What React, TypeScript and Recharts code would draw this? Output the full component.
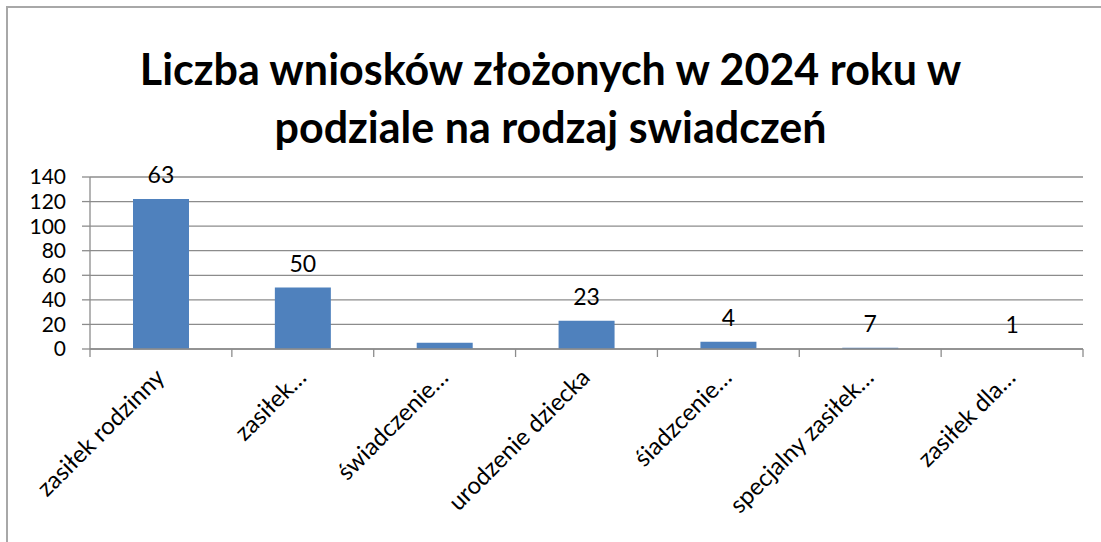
import { ComposedChart, Bar, Line, XAxis, YAxis, CartesianGrid, LabelList } from 'recharts'

const categories = [
  'zasiłek rodzinny',
  'zasiłek…',
  'świadczenie…',
  'urodzenie dziecka',
  'śiadzcenie…',
  'specjalny zasiłek…',
  'zasiłek dla…',
]
const barValues = [122, 50, 5, 23, 6, 1, 0]
const barLabels = ['63', '50', '', '23', '4', '7', '1']
const yTicks = [0, 20, 40, 60, 80, 100, 120, 140]

const titleLines = ['Liczba wniosków złożonych w 2024 roku w', 'podziale na rodzaj swiadczeń']

const FONT = 'Lato, "Open Sans", sans-serif'
const GRID = '#8c8c8c'
const BAR = '#4F81BD'

const data = categories.map((name, i) => ({ name, value: barValues[i], label: barLabels[i] }))

const CategoryTick = ({ x, y, payload, index, visibleTicksCount }: any) => {
  const half = payload && payload.offset ? payload.offset : 993 / 14
  const ax = x + 5
  const ay = y + 30
  const isLast = index === (visibleTicksCount ?? categories.length) - 1
  return (
    <g>
      <line x1={x - half} y1={y} x2={x - half} y2={y + 8} stroke={GRID} strokeWidth={1.3} />
      {isLast && <line x1={x + half} y1={y} x2={x + half} y2={y + 8} stroke={GRID} strokeWidth={1.3} />}
      <text
        x={ax}
        y={ay}
        textAnchor="end"
        transform={`rotate(-45, ${ax}, ${ay})`}
        fontSize={24}
        fontFamily={FONT}
        fill="#000"
      >
        {payload.value}
      </text>
    </g>
  )
}

export default function App() {
  return (
    <div style={{ position: 'fixed', left: 0, top: 0, width: 1101, height: 542, background: '#fff' }}>
      <div
        style={{
          position: 'absolute',
          left: 6,
          top: 6,
          width: 1110,
          height: 560,
          borderLeft: '2px solid #a8a8a8',
          borderTop: '2px solid #a8a8a8',
        }}
      />
      <div
        style={{
          position: 'absolute',
          left: 0,
          top: 40,
          width: 1101,
          textAlign: 'center',
          fontFamily: FONT,
          fontWeight: 700,
          fontSize: 43,
          lineHeight: '58px',
          color: '#000',
        }}
      >
        {titleLines.map((t) => (
          <div key={t}>{t}</div>
        ))}
      </div>
      <div style={{ position: 'absolute', left: 0, top: 0 }}>
        <ComposedChart
          width={1101}
          height={542}
          data={data}
          margin={{ top: 177, right: 18, bottom: 0, left: 30 }}
          barSize={56}
        >
          <CartesianGrid vertical={false} stroke={GRID} strokeWidth={1.3} />
          <XAxis
            dataKey="name"
            height={193}
            interval={0}
            tickLine={false}
            tickSize={0}
            tickMargin={0}
            axisLine={{ stroke: GRID, strokeWidth: 1.3 }}
            tick={<CategoryTick />}
          />
          <YAxis
            domain={[0, 140]}
            ticks={yTicks}
            interval={0}
            width={60}
            tickSize={8}
            tickMargin={16}
            axisLine={{ stroke: GRID, strokeWidth: 1.3 }}
            tickLine={{ stroke: GRID, strokeWidth: 1.3 }}
            tick={{ fontSize: 21, fontFamily: FONT, fill: '#000' }}
          />
          <Bar dataKey="value" fill={BAR} isAnimationActive={false} />
          <Line
            dataKey="value"
            stroke="none"
            dot={false}
            activeDot={false}
            legendType="none"
            isAnimationActive={false}
          >
            <LabelList
              dataKey="label"
              position="top"
              offset={16}
              fontSize={23}
              fontFamily={FONT}
              fill="#000"
            />
          </Line>
        </ComposedChart>
      </div>
    </div>
  )
}
